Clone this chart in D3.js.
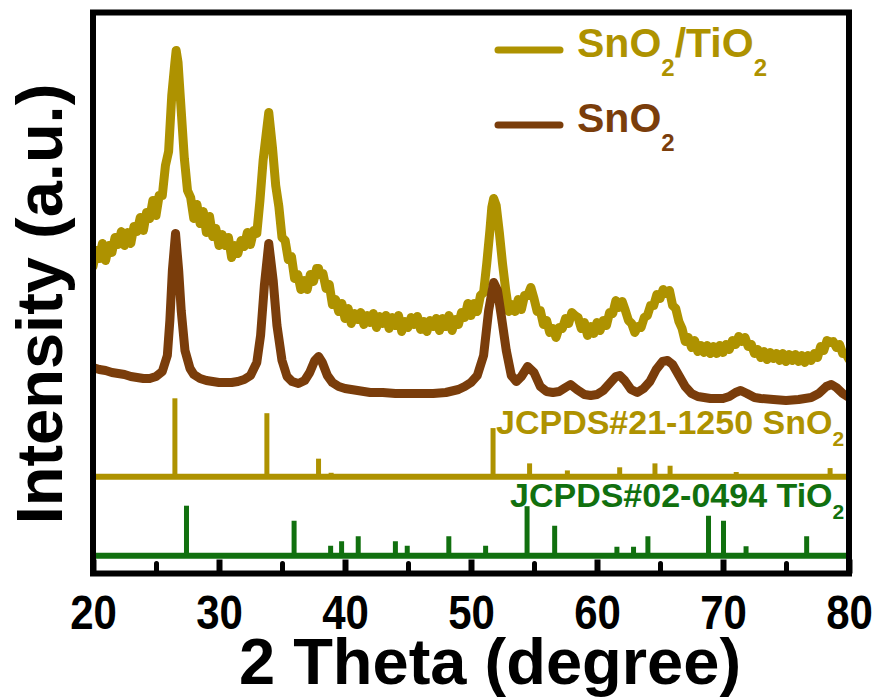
<!DOCTYPE html>
<html>
<head>
<meta charset="utf-8">
<script src="https://cdn.jsdelivr.net/npm/d3@7"></script>
<style>
  html, body { margin: 0; padding: 0; background: #fff; }
  svg { display: block; }
  text { font-family: "Liberation Sans", Arial, sans-serif; font-weight: bold; }
</style>
</head>
<body>
<svg id="chart" width="876" height="699"></svg>
<script>
// ---------- DATA ----------
const xTicks = [20, 30, 40, 50, 60, 70, 80];
const xMinorTicks = [25, 35, 45, 55, 65, 75];

// SnO2 pattern: [2theta, intensity (a.u.)]
const sno2Theta = [20.0,20.5,21.0,21.5,22.0,22.5,23.0,23.5,24.0,24.5,25.0,25.5,25.9,26.1,26.3,26.55,26.8,27.0,27.3,27.7,28.0,28.5,29.0,29.5,30.0,30.5,31.0,31.5,32.0,32.5,33.0,33.3,33.6,33.95,34.3,34.6,35.0,35.4,35.8,36.3,36.8,37.2,37.6,37.9,38.2,38.6,39.0,39.5,40.0,41.0,42.0,43.0,44.0,45.0,46.0,47.0,48.0,49.0,49.5,50.0,50.5,51.0,51.4,51.8,52.1,52.4,52.8,53.2,53.6,54.0,54.5,55.0,55.5,56.0,56.5,57.0,57.5,57.9,58.4,59.0,59.5,60.0,60.5,61.0,61.5,61.8,62.2,62.7,63.2,63.7,64.2,64.7,65.2,65.6,66.0,66.5,67.0,67.5,68.0,69.0,70.0,70.5,71.0,71.4,71.9,72.5,73.0,74.0,75.0,76.0,77.0,77.6,78.2,78.6,79.0,79.5,80.0];
const sno2Int = [206,204,203,201,200,199,197,196,195,195,197,202,218,253,303,340,303,263,223,205,199,195,193,192,191,191,191,192,194,198,211,238,288,330,293,248,213,197,192,190,193,201,213,217,211,198,191,187,185,183,181,181,180,180,180,180,181,184,187,191,198,218,263,291,283,258,223,198,192,197,207,201,187,182,181,182,186,189,184,179,178,179,183,190,197,198,193,184,181,185,192,204,212,213,209,198,187,180,177,175,175,177,181,183,180,176,175,174,173,174,176,180,187,189,186,180,176];

// SnO2/TiO2 pattern (noisy trace)
const compTheta = [20,20.25,20.5,20.75,21,21.25,21.5,21.75,22,22.25,22.5,22.75,23,23.25,23.5,23.75,24,24.25,24.5,24.75,25,25.25,25.5,25.75,26,26.25,26.5,26.6,26.75,27,27.25,27.5,27.75,28,28.25,28.5,28.75,29,29.25,29.5,29.75,30,30.25,30.5,30.75,31,31.25,31.5,31.75,32,32.25,32.5,32.75,33,33.25,33.5,33.75,33.95,34.25,34.5,34.75,35,35.25,35.5,35.75,36,36.25,36.5,36.75,37,37.25,37.5,37.75,37.9,38,38.25,38.5,38.75,39,39.25,39.5,39.75,40,40.25,40.5,40.75,41,41.25,41.5,41.75,42,42.25,42.5,42.75,43,43.25,43.5,43.75,44,44.25,44.5,44.75,45,45.25,45.5,45.75,46,46.25,46.5,46.75,47,47.25,47.5,47.75,48,48.25,48.5,48.75,49,49.25,49.5,49.75,50,50.25,50.5,50.75,51,51.25,51.5,51.65,51.8,52,52.25,52.5,52.75,53,53.25,53.5,53.75,54,54.25,54.5,54.75,55,55.25,55.5,55.75,56,56.25,56.5,56.75,57,57.25,57.5,57.75,58,58.25,58.5,58.75,59,59.25,59.5,59.75,60,60.25,60.5,60.75,61,61.25,61.5,61.75,62,62.25,62.5,62.75,63,63.25,63.5,63.75,64,64.25,64.5,64.75,65,65.25,65.5,65.75,66,66.25,66.5,66.75,67,67.25,67.5,67.75,68,68.25,68.5,68.75,69,69.25,69.5,69.75,70,70.25,70.5,70.75,71,71.25,71.5,71.75,72,72.25,72.5,72.75,73,73.25,73.5,73.75,74,74.25,74.5,74.75,75,75.25,75.5,75.75,76,76.25,76.5,76.75,77,77.25,77.5,77.75,78,78.25,78.5,78.75,79,79.25,79.5,79.75,80];
const compInt = [307,323,315,330,313,328,321,336,329,342,328,341,330,347,342,356,343,361,355,373,358,378,378,408,422,478,511,523,511,463,415,383,376,355,369,350,362,341,357,337,345,328,339,328,336,316,328,320,333,327,341,329,343,340,373,413,440,461,425,388,367,336,333,314,317,295,299,284,293,284,299,292,305,305,299,300,285,289,269,274,262,270,255,265,250,260,254,261,249,258,251,260,246,257,250,258,245,256,248,258,242,252,246,256,249,257,244,252,242,253,247,255,243,255,247,258,243,254,249,261,256,270,258,270,262,278,281,310,343,366,375,368,341,310,284,262,269,262,274,264,278,278,286,275,262,263,249,253,241,245,236,246,245,255,250,261,258,256,245,251,238,247,240,251,243,253,248,261,260,273,266,272,263,253,250,241,247,246,256,258,268,268,279,275,284,280,283,268,265,252,245,232,236,226,233,222,228,221,228,220,227,220,228,221,229,224,233,229,237,232,236,227,229,220,224,216,222,214,221,215,220,213,220,212,219,213,219,212,218,211,218,213,220,216,227,223,233,231,232,226,229,220,220,214];

// Reference sticks (relative intensity, 100 = strongest)
const refSnO2Theta = [26.5,33.8,37.9,38.9,51.75,54.65,57.65,61.8,64.6,65.8,71.05,78.5];
const refSnO2Int   = [100,81,23,5,62,17,8,12,17,14,6,11];
const refTiO2Theta = [27.42,35.96,38.86,39.73,41.05,44.0,44.94,48.24,51.16,54.45,56.64,61.58,62.9,64.04,68.85,70.04,71.83,76.64];
const refTiO2Int   = [100,70,20,29,39,29,20,39,20,99,60,18,18,39,80,70,19,39];

const legendLabels = [["SnO", "2", "/TiO", "2"], ["SnO", "2"]];
const refLabels = [["JCPDS#21-1250 SnO", "2"], ["JCPDS#02-0494 TiO", "2"]];

// ---------- STYLE ----------
const gold = "#AE9200", brown = "#7A3D0B", green = "#11700F";

const svg = d3.select("#chart");
const pL = 93, pR = 849, pT = 12.5, pB = 573.5;

const x = d3.scaleLinear().domain([20, 80]).range([pL, pR]);
const y = d3.scaleLinear().domain([0, 561]).range([pB, pT]);

// stick scales (own baselines)
const snBase = 476.7, tiBase = 555.7;
const ySn = d3.scaleLinear().domain([0, 100]).range([snBase, snBase - 78.4]);
const yTi = d3.scaleLinear().domain([0, 100]).range([tiBase, tiBase - 50]);

svg.append("defs").append("clipPath").attr("id", "clip")
  .append("rect").attr("x", pL).attr("y", pT).attr("width", pR - pL).attr("height", pB - pT);

const g = svg.append("g").attr("clip-path", "url(#clip)");

// curves
const line = d3.line().x(d => x(d[0])).y(d => y(d[1]));
const sno2 = d3.zip(sno2Theta, sno2Int);
const comp = d3.zip(compTheta, compInt);

g.append("path").datum(comp).attr("d", line)
  .attr("fill", "none").attr("stroke", gold).attr("stroke-width", 9)
  .attr("stroke-linejoin", "round").attr("stroke-linecap", "round");
g.append("path").datum(sno2).attr("d", line)
  .attr("fill", "none").attr("stroke", brown).attr("stroke-width", 9)
  .attr("stroke-linejoin", "round").attr("stroke-linecap", "round");

// reference sticks
function sticks(thetas, ints, ys, base, color) {
  g.append("line").attr("x1", pL).attr("x2", pR).attr("y1", base).attr("y2", base)
    .attr("stroke", color).attr("stroke-width", 6);
  g.selectAll(null).data(d3.zip(thetas, ints)).enter().append("line")
    .attr("x1", d => x(d[0])).attr("x2", d => x(d[0]))
    .attr("y1", base).attr("y2", d => ys(d[1]))
    .attr("stroke", color).attr("stroke-width", 5);
}
sticks(refSnO2Theta, refSnO2Int, ySn, snBase, gold);
sticks(refTiO2Theta, refTiO2Int, yTi, tiBase, green);

// labels with subscripts
function subLabel(xp, yp, parts, color, fs, subFs, dySub) {
  const t = svg.append("text").attr("x", xp).attr("y", yp).attr("fill", color).attr("font-size", fs);
  parts.forEach((p, i) => {
    const isSub = i % 2 === 1;
    t.append("tspan").text(p)
      .attr("font-size", isSub ? subFs : fs)
      .attr("dy", i === 0 ? 0 : (isSub ? dySub : -dySub));
  });
  return t;
}
subLabel(496, 434, refLabels[0], gold, 34, 21, 12);
subLabel(510, 507, refLabels[1], green, 34, 21, 12);

// legend
const legColors = [gold, brown];
const legY = [50, 125];
legendLabels.forEach((parts, i) => {
  svg.append("line").attr("x1", 498).attr("x2", 560).attr("y1", legY[i]).attr("y2", legY[i])
    .attr("stroke", legColors[i]).attr("stroke-width", 7).attr("stroke-linecap", "round");
  subLabel(577, legY[i] + 7, parts, legColors[i], 41, 24, 19);
});

// axis
const axis = d3.axisBottom(x).tickValues(xTicks).tickSizeInner(-14).tickSizeOuter(0)
  .tickFormat(d3.format("d"));
const ax = svg.append("g").attr("transform", `translate(0,${pB})`).call(axis);
ax.select(".domain").remove();
ax.selectAll(".tick line").attr("stroke", "#000").attr("stroke-width", 6);
ax.selectAll(".tick text").attr("fill", "#000").attr("font-size", 42)
  .attr("font-family", "'Liberation Sans', Arial, sans-serif").attr("font-weight", "bold")
  .attr("y", 0).attr("dy", 0).attr("transform", "translate(0,55) scale(1,1.15)");

const minorAxis = d3.axisBottom(x).tickValues(xMinorTicks).tickSizeInner(-10).tickSizeOuter(0).tickFormat("");
const mx = svg.append("g").attr("transform", `translate(0,${pB})`).call(minorAxis);
mx.select(".domain").remove();
mx.selectAll(".tick line").attr("stroke", "#000").attr("stroke-width", 5).attr("stroke-linecap", "round");

// frame
svg.append("rect").attr("x", pL).attr("y", pT).attr("width", pR - pL).attr("height", pB - pT)
  .attr("fill", "none").attr("stroke", "#000").attr("stroke-width", 6);

// axis titles
svg.append("text").attr("x", 490).attr("y", 684).attr("text-anchor", "middle")
  .attr("font-size", 65).attr("fill", "#000").text("2 Theta (degree)");
svg.append("text").attr("transform", "translate(62,304) rotate(-90)").attr("text-anchor", "middle")
  .attr("font-size", 65).attr("fill", "#000").text("Intensity (a.u.)");
</script>
</body>
</html>
